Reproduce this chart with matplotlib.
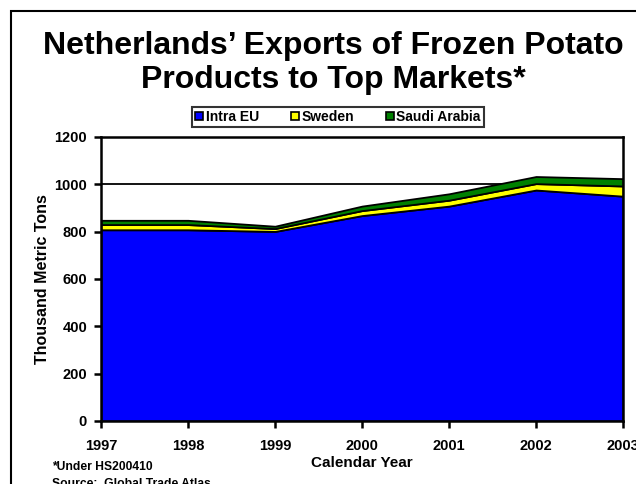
import matplotlib
matplotlib.use("Agg")
import matplotlib.pyplot as plt
from matplotlib.patches import Patch, Rectangle

plt.rcParams['font.family'] = ['Liberation Sans', 'DejaVu Sans']
plt.rcParams['font.weight'] = 'bold'

years = [1997, 1998, 1999, 2000, 2001, 2002, 2003]
intra_eu = [808, 808, 801, 868, 908, 976, 950]
sweden = [22, 22, 12, 21, 25, 27, 43]
saudi_arabia = [18, 18, 10, 19, 27, 30, 31]
series_names = ['Intra EU', 'Sweden', 'Saudi Arabia']
series_colors = ['#0000FF', '#FFFF00', '#008000']
y_ticks = [0, 200, 400, 600, 800, 1000, 1200]

W, H = 636, 484
fig = plt.figure(figsize=(W / 100, H / 100), dpi=100)

# outer frame of the slide
fig.patches.append(Rectangle((11 / W, -0.1), 1.2, (H - 11) / H + 0.1,
                             transform=fig.transFigure, fill=False,
                             edgecolor='black', linewidth=1.5))

ax = fig.add_axes([101 / W, 1 - 421 / H, (623 - 101) / W, (421 - 137) / H])
ax.stackplot(years, intra_eu, sweden, saudi_arabia, colors=series_colors,
             edgecolor='black', linewidth=1.3, zorder=2)
ax.set_xlim(years[0], years[-1])
ax.set_ylim(0, 1200)
ax.set_yticks(y_ticks)
ax.set_xticks(years)
ax.yaxis.grid(True, color='black', linewidth=1.3, zorder=1)
ax.set_axisbelow(True)
for s in ax.spines.values():
    s.set_linewidth(1.8)
    s.set_zorder(3)
ax.tick_params(axis='both', direction='out', length=5, width=1.8,
               labelsize=10.5)
ax.tick_params(axis='x', pad=8)
ax.tick_params(axis='y', pad=5)
for lbl in ax.get_xticklabels() + ax.get_yticklabels():
    lbl.set_fontweight('bold')
ax.set_xlabel('Calendar Year', fontsize=11, fontweight='bold', labelpad=2)
ax.set_ylabel('Thousand Metric Tons', fontsize=11.5, fontweight='bold',
              labelpad=3)

fig.text(333 / W, 1 - 88 / H, 'Netherlands\u2019 Exports of Frozen Potato\nProducts to Top Markets*',
         ha='center', va='baseline', fontsize=23, fontweight='bold',
         linespacing=1.17)

handles = [Patch(facecolor=c, edgecolor='black', linewidth=1.2)
           for c in series_colors]
leg = fig.legend(handles, series_names, loc='center',
                 bbox_to_anchor=(338 / W, 1 - 117 / H), ncol=3,
                 frameon=True, fancybox=False, fontsize=10,
                 handlelength=0.55, handleheight=0.55, handletextpad=0.2,
                 columnspacing=2.3, borderpad=0.25, borderaxespad=0)
leg.get_frame().set_edgecolor('black')
leg.get_frame().set_linewidth(1.5)
for t in leg.get_texts():
    t.set_fontweight('bold')

fig.text(52 / W, 1 - 467 / H, '*Under HS200410', ha='left', va='center',
         fontsize=8.7, fontweight='bold')
fig.text(52 / W, 1 - 484 / H, 'Source:  Global Trade Atlas', ha='left',
         va='center', fontsize=8.7, fontweight='bold')

fig.savefig('out.png', dpi=100)
